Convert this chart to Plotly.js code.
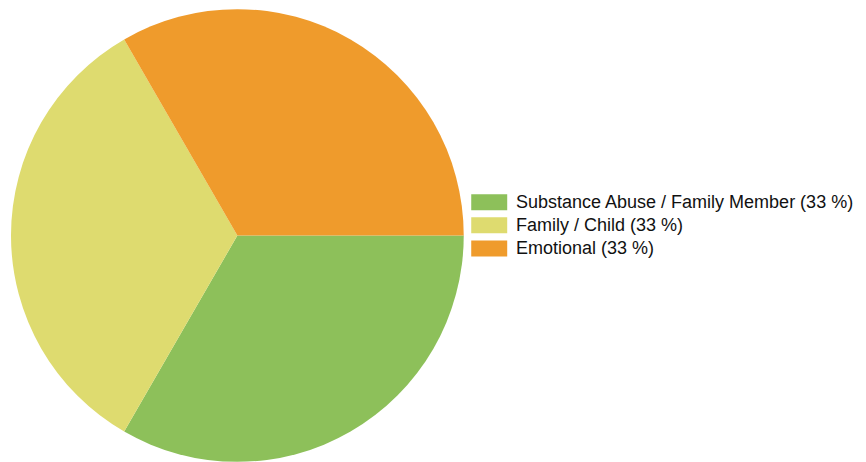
<!DOCTYPE html>
<html>
<head>
<meta charset="utf-8">
<script src="https://cdn.plot.ly/plotly-3.0.1.min.js"></script>
<style>html,body{margin:0;padding:0;background:#fff;overflow:hidden}#chart{width:866px;height:462px}</style>
</head>
<body>
<div id="chart"></div>
<script>
const labels = ["Substance Abuse / Family Member", "Family / Child", "Emotional"];
const values = [1, 1, 1];
const percents = ["33 %", "33 %", "33 %"];
const colors = ["#8dc05a", "#dedb6f", "#ef9b2c"];

const W = 866, H = 462;
const M = {l: 10.5, r: 0, t: 9, b: 0};
const pw = W - M.l - M.r, ph = H - M.t - M.b;
const px = x => (x - M.l) / pw;
const py = y => 1 - (y - M.t) / ph;

const shapes = [], annotations = [];
const rowY0 = 202.2, rowStep = 23.1;
labels.forEach((lab, i) => {
  const cy = rowY0 + i * rowStep;
  shapes.push({type: "rect", xref: "paper", yref: "paper",
    x0: px(471), x1: px(507), y0: py(cy - 8), y1: py(cy + 8),
    fillcolor: colors[i], line: {width: 0}});
  annotations.push({xref: "paper", yref: "paper", x: px(513.5), y: py(cy),
    xanchor: "left", yanchor: "middle", showarrow: false,
    text: lab + " (" + percents[i] + ")",
    font: {family: "Arial, 'Liberation Sans', sans-serif", size: 18, color: "#111"}});
});

const trace = {
  type: "pie", labels: labels, values: values, sort: false,
  direction: "clockwise", rotation: 90,
  marker: {colors: colors, line: {width: 0}},
  textinfo: "none", hoverinfo: "label+percent",
  domain: {x: [0, ph / pw], y: [0, 1]}
};

Plotly.newPlot("chart", [trace], {
  width: W, height: H, margin: M, showlegend: false,
  paper_bgcolor: "#fff", plot_bgcolor: "#fff",
  shapes: shapes, annotations: annotations
}, {displayModeBar: false, staticPlot: true});
</script>
</body>
</html>
